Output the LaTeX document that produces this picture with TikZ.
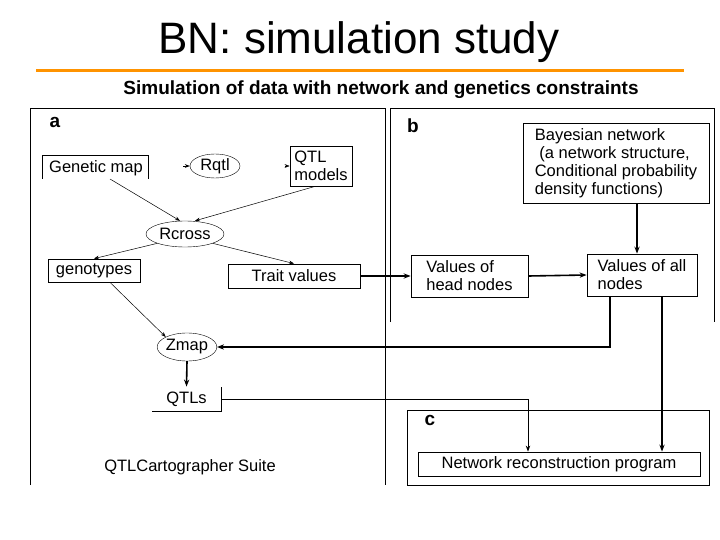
\documentclass[tikz,border=0pt]{standalone}
\usepackage{fontspec}
\setmainfont{Liberation Sans}
\usetikzlibrary{shapes.geometric,arrows.meta}
\begin{document}
\begin{tikzpicture}[x=1pt,y=-1pt,
  box/.style={draw,thick,inner sep=3pt,font=\fontsize{16.5}{18}\selectfont,align=left},
  ell/.style={draw,ellipse,inner sep=0pt,font=\fontsize{16.5}{18}\selectfont},
  thin arr/.style={-{Stealth[length=5pt]},line width=0.5pt},
  thick arr/.style={-{Stealth[length=7pt]},line width=1.6pt},
  lab/.style={font=\bfseries\fontsize{19}{20}\selectfont}]
\useasboundingbox (0,0) rectangle (720,540);
\node (title) at (359,42) {\fontsize{44}{46}\selectfont BN: simulation study};
\draw[line width=3pt,color=orange!85!yellow] (36,71) -- (684,71);
\node (sub) at (381,90) {\bfseries\fontsize{19}{20}\selectfont Simulation of data with network and genetics constraints};
% panels
\draw[thick] (30,485) -- (30,108) -- (385,108) -- (385,485);
\draw[thick] (390,322) -- (390,108) -- (714,108) -- (714,322);
\draw[thick] (407,410) rectangle (709,485);
\node[lab] (la) at (55,122) {a};
\node[lab] (lb) at (413,126) {b};
\node[lab] (lc) at (430,420) {c};
% nodes
\node[font=\fontsize{16.5}{18}\selectfont] (gm) at (96,168) {Genetic map};
\draw[thick] (42,179) -- (42,155) -- (148,155) -- (148,179);
\node[ell,minimum width=50pt,minimum height=24pt] (rqtl) at (215,166) {Rqtl};
\node[box,minimum width=62pt,minimum height=40pt] (qtlm) at (321,166) {QTL\\models};
\node[ell,minimum width=78pt,minimum height=26pt] (rcross) at (185,234) {Rcross};
\node[box,minimum width=92pt,minimum height=23pt] (geno) at (94,270.5) {genotypes};
\node[box,minimum width=132pt,minimum height=24pt] (trait) at (294,276) {Trait values};
\node[box,minimum width=117pt,minimum height=42pt] (head) at (469.5,276) {Values of\\head nodes};
\node[box,minimum width=110pt,minimum height=42pt] (all) at (642,275) {Values of all\\nodes};
\node[box,minimum width=186pt,minimum height=80pt,inner sep=4pt] (bn) at (616,163) {Bayesian network\\ \ (a network structure,\\Conditional probability\\density functions)};
\node[ell,minimum width=58pt,minimum height=28pt] (zmap) at (187,347) {Zmap};
\node[box,minimum width=69pt,minimum height=24pt,draw=none] (qtls) at (186.5,399) {QTLs};
\draw[thick] (152,411) -- (221,411) -- (221,387);
\node[font=\fontsize{16.5}{18}\selectfont] (suite) at (190,467) {QTLCartographer Suite};
\node[box,minimum width=282pt,minimum height=24pt] (nrp) at (559,464) {Network reconstruction program};
% small stubs
\coordinate (s1) at (183,166); \coordinate (s2) at (285,166);
\draw[thin arr] (s1) -- (rqtl.west);
\draw[thin arr] (s2) -- (qtlm.west);
% arrows
\draw[thin arr] (110,179) -- (rcross.north -| 180,0);
\draw[thin arr] (qtlm.south) ++(-6,0) -- ([xshift=10pt]rcross.north);
\draw[thin arr] (rcross.south west) -- (geno.north);
\draw[thin arr] (rcross.south east) -- (trait.north);
\draw[thin arr] (geno.south) ++(16,0) -- (zmap.north west);
\draw[thick arr] (zmap.south) -- (qtls.north);
\draw[thick arr] (trait.east) -- (head.west);
\draw[thick arr] (head.east) -- (all.west);
\draw[thick arr] (bn.south -| 637,0) -- (all.north -| 637,0);
\draw[thick arr] (all.south -| 610,0) |- (zmap.east);
\draw[thick arr] (all.south -| 662,0) -- (nrp.north -| 662,0);
\draw[-{Stealth[length=6pt]},line width=0.9pt] (qtls.east) -| (nrp.north -| 528,0);
\end{tikzpicture}
\end{document}
